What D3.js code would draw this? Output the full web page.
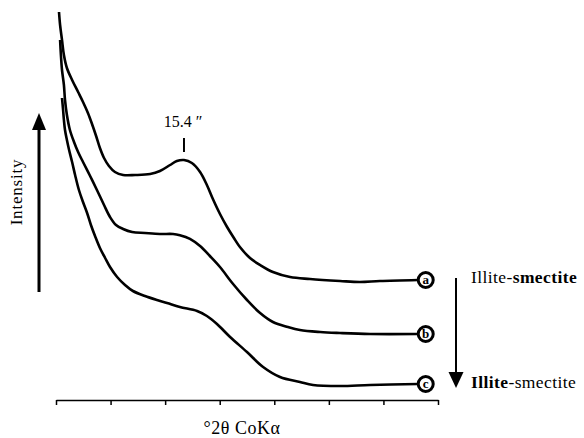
<!DOCTYPE html>
<html>
<head>
<meta charset="utf-8">
<script src="https://cdn.jsdelivr.net/npm/d3@7"></script>
<style>
  body { margin: 0; background: #fff; }
  text { font-family: "Liberation Serif", "Times New Roman", serif; fill: #000; }
</style>
</head>
<body>
<div id="chart"></div>
<script>
// °2θ (CoKα) ticks, no labels on the axis
const thetaTicks = [2, 4, 6, 8, 10, 12, 14, 16];

// traces: [2θ, relative intensity]
const traceA = [
  [2.11, 97.0], [2.15, 93.75], [2.22, 90.0], [2.29, 86.25], [2.40, 83.0],
  [2.59, 80.0], [2.81, 77.0], [2.99, 74.5], [3.17, 71.75], [3.32, 69.0],
  [3.47, 66.0], [3.61, 63.0], [3.76, 60.5], [3.94, 58.5], [4.16, 57.0],
  [4.46, 56.25], [4.90, 56.25], [5.45, 56.5], [5.81, 57.25], [6.18, 58.75],
  [6.43, 59.75], [6.69, 60.0], [6.98, 59.25], [7.28, 57.0], [7.53, 53.75],
  [7.75, 50.25], [8.01, 46.5], [8.27, 43.25], [8.52, 40.5], [8.74, 38.25],
  [9.11, 35.5], [9.48, 33.75], [9.95, 32.0], [10.58, 30.75], [11.31, 30.25],
  [12.41, 29.75], [13.14, 29.5], [13.87, 29.75], [15.27, 30.0]
];
const traceB = [
  [2.15, 90.0], [2.18, 86.25], [2.22, 82.5], [2.29, 78.75], [2.33, 75.0],
  [2.40, 71.25], [2.51, 67.5], [2.66, 64.5], [2.81, 62.0], [2.99, 59.5],
  [3.25, 56.0], [3.50, 52.5], [3.76, 48.75], [3.98, 45.75], [4.20, 43.75],
  [4.46, 42.75], [4.79, 42.0], [5.26, 41.75], [5.81, 41.5], [6.29, 41.5],
  [6.54, 41.2], [6.91, 40.3], [7.28, 38.5], [7.64, 36.0], [8.01, 33.25],
  [8.49, 29.0], [9.00, 25.0], [9.48, 21.75], [9.95, 19.5], [10.50, 18.25],
  [10.94, 17.5], [11.68, 17.0], [12.41, 16.75], [13.51, 16.5], [15.27, 16.5]
];
const traceC = [
  [2.22, 75.5], [2.26, 72.5], [2.29, 70.0], [2.33, 67.5], [2.40, 65.0],
  [2.48, 62.5], [2.59, 59.5], [2.70, 56.25], [2.84, 52.5], [2.99, 49.5],
  [3.14, 46.75], [3.28, 43.75], [3.43, 41.0], [3.61, 38.0], [3.80, 35.5],
  [3.98, 33.25], [4.24, 30.75], [4.53, 28.75], [4.82, 27.25], [5.26, 26.0],
  [5.70, 25.0], [6.07, 24.25], [6.54, 23.25], [7.17, 22.25], [7.53, 21.0],
  [7.90, 19.0], [8.38, 15.75], [9.00, 12.0], [9.59, 8.25], [10.21, 5.75],
  [10.94, 4.5], [11.42, 3.75], [12.41, 3.5], [13.51, 3.75], [15.27, 4.0]
];

const traces = [traceA, traceB, traceC];
const traceNames = ["a", "b", "c"];
const labelTheta = 15.55;

// 15.4 Å peak marker
const peakTheta = 6.69;
const peakTick = [62, 65.5];
const peakLabel = "15.4 \u2033";
const peakLabelY = 68.25;

const width = 584;
const height = 438;

const svg = d3.select("#chart")
  .append("svg")
  .attr("width", width)
  .attr("height", height);

const x = d3.scaleLinear().domain([2, 16]).range([56, 438]);
const y = d3.scaleLinear().domain([0, 100]).range([400, 0]);

// x axis: ticks only
const xAxis = d3.axisBottom(x)
  .tickValues(thetaTicks)
  .tickSize(5)
  .tickSizeOuter(0)
  .tickFormat("");

const xg = svg.append("g")
  .attr("transform", `translate(0,${y(0)})`)
  .call(xAxis);
xg.select(".domain").attr("stroke", "#000").attr("stroke-width", 1.5);
xg.selectAll(".tick line").attr("stroke", "#000").attr("stroke-width", 1.5);

svg.append("text")
  .attr("x", 242)
  .attr("y", 434)
  .attr("text-anchor", "middle")
  .style("font-size", "18px")
  .style("letter-spacing", "0.5px")
  .text("\u00b02\u03b8 CoK\u03b1");

const lineGen = d3.line()
  .x((d) => x(d[0]))
  .y((d) => y(d[1]))
  .curve(d3.curveCatmullRom.alpha(0.5));

svg.selectAll(".trace")
  .data(traces)
  .join("path")
  .attr("class", "trace")
  .attr("fill", "none")
  .attr("stroke", "#000")
  .attr("stroke-width", 2.6)
  .attr("stroke-linejoin", "round")
  .attr("d", lineGen);

// circled letters at the ends
const marks = svg.selectAll(".mark")
  .data(traces)
  .join("g")
  .attr("class", "mark")
  .attr("transform", (d) => `translate(${x(labelTheta)},${y(d[d.length - 1][1])})`);

marks.append("circle")
  .attr("r", 7.5)
  .attr("fill", "#fff")
  .attr("stroke", "#000")
  .attr("stroke-width", 3);

marks.append("text")
  .attr("text-anchor", "middle")
  .attr("dy", "0.33em")
  .style("font-size", "13px")
  .style("font-weight", "bold")
  .text((d, i) => traceNames[i]);

// peak marker
svg.append("line")
  .attr("x1", x(peakTheta))
  .attr("x2", x(peakTheta))
  .attr("y1", y(peakTick[0]))
  .attr("y2", y(peakTick[1]))
  .attr("stroke", "#000")
  .attr("stroke-width", 2);

svg.append("text")
  .attr("x", x(peakTheta) - 1)
  .attr("y", y(peakLabelY))
  .attr("text-anchor", "middle")
  .style("font-size", "16px")
  .text(peakLabel);

function arrow(x0, yFrom, yTo, sw, headW, headH) {
  const dir = yTo < yFrom ? -1 : 1;
  svg.append("line")
    .attr("x1", x0).attr("x2", x0)
    .attr("y1", yFrom).attr("y2", yTo - dir * headH * 0.6)
    .attr("stroke", "#000")
    .attr("stroke-width", sw);
  svg.append("path")
    .attr("d", `M${x0},${yTo} L${x0 - headW / 2},${yTo - dir * headH} L${x0 + headW / 2},${yTo - dir * headH} Z`)
    .attr("fill", "#000");
}

// intensity arrow
arrow(39, y(27), y(71.75), 3, 14, 17);
svg.append("text")
  .attr("transform", `translate(22,${y(52)}) rotate(-90)`)
  .attr("text-anchor", "middle")
  .style("font-size", "17px")
  .style("letter-spacing", "0.8px")
  .text("Intensity");

// series direction arrow
arrow(456, y(30.5), y(3), 2, 15, 16);

const topLabel = svg.append("text")
  .attr("x", 471)
  .attr("y", y(29.25))
  .style("font-size", "17.5px")
  .style("letter-spacing", "0.4px");
topLabel.append("tspan").text("Illite-");
topLabel.append("tspan").style("font-weight", "bold").text("smectite");

const botLabel = svg.append("text")
  .attr("x", 471)
  .attr("y", y(3))
  .style("font-size", "17.5px")
  .style("letter-spacing", "0.4px");
botLabel.append("tspan").style("font-weight", "bold").text("Illite");
botLabel.append("tspan").text("-smectite");
</script>
</body>
</html>
